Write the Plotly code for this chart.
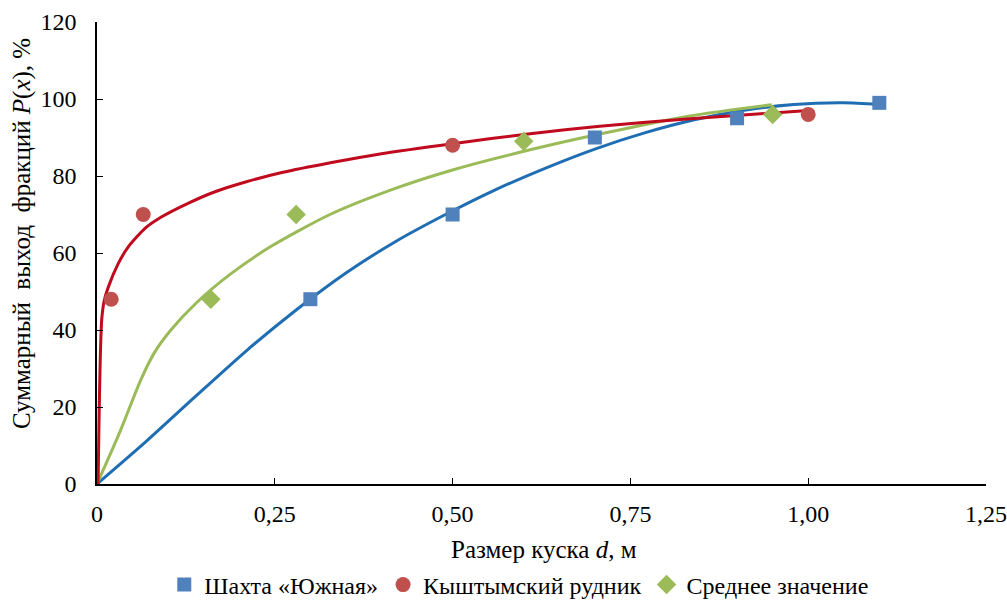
import plotly.graph_objects as go

# Measured points
south_x = [0.3, 0.5, 0.7, 0.9, 1.1]
south_y = [48, 70, 90, 95, 99]
kysh_x = [0.02, 0.065, 0.5, 1.0]
kysh_y = [48, 70, 88, 96]
avg_x = [0.16, 0.28, 0.6, 0.95]
avg_y = [48, 70, 89, 96]

# Trend curves
south_tx = [0, 0.07, 0.14, 0.21, 0.28, 0.35, 0.42, 0.49, 0.56, 0.63, 0.70, 0.77, 0.84, 0.91, 0.98, 1.05, 1.10]
south_ty = [0, 11.2, 23.0, 34.6, 45.2, 54.8, 63.0, 70.0, 76.4, 82.0, 87.0, 91.2, 94.6, 97.1, 98.6, 99.0, 98.6]
kysh_tx = [0.0015, 0.003, 0.0045, 0.0066, 0.010, 0.016, 0.030, 0.044, 0.0675, 0.091, 0.128, 0.166, 0.21, 0.26, 0.33, 0.40, 0.50, 0.609, 0.707, 0.834, 1.0]
kysh_ty = [0, 18, 32, 42.6, 47.5, 51.2, 57.3, 61.6, 66.4, 69.4, 72.9, 75.9, 78.5, 80.9, 83.5, 85.8, 88.4, 91.0, 92.9, 94.9, 97.0]
avg_tx = [0, 0.0328, 0.061, 0.0797, 0.103, 0.1406, 0.1875, 0.2437, 0.3276, 0.4214, 0.4987, 0.609, 0.707, 0.834, 0.9487]
avg_ty = [0, 13.8, 26.8, 33.8, 39.8, 47.2, 54.5, 61.6, 70.0, 76.9, 81.5, 86.8, 90.9, 95.6, 98.5]

x_ticks = [0, 0.25, 0.5, 0.75, 1.0, 1.25]
x_ticktext = ["0", "0,25", "0,50", "0,75", "1,00", "1,25"]
y_ticks = [0, 20, 40, 60, 80, 100, 120]

names = ["Шахта «Южная»", "Кыштымский рудник", "Среднее значение"]

FONT = "Liberation Serif"
FS_TICK = 24
FS_TITLE = 25
FS_LEG = 24

fig = go.Figure()
fig.add_trace(go.Scatter(x=south_tx, y=south_ty, mode="lines", line=dict(color="#1F6EB4", width=3, shape="spline", smoothing=0.7), showlegend=False, hoverinfo="skip"))
fig.add_trace(go.Scatter(x=avg_tx, y=avg_ty, mode="lines", line=dict(color="#9BBB59", width=3, shape="spline", smoothing=0.7), showlegend=False, hoverinfo="skip"))
fig.add_trace(go.Scatter(x=kysh_tx, y=kysh_ty, mode="lines", line=dict(color="#C00A1E", width=3, shape="spline", smoothing=0.6), showlegend=False, hoverinfo="skip"))

fig.add_trace(go.Scatter(x=south_x, y=south_y, mode="markers", name=names[0], marker=dict(symbol="square", size=14, color="#4F81BD")))
fig.add_trace(go.Scatter(x=kysh_x, y=kysh_y, mode="markers", name=names[1], marker=dict(symbol="circle", size=15, color="#C0504D")))
fig.add_trace(go.Scatter(x=avg_x, y=avg_y, mode="markers", name=names[2], marker=dict(symbol="diamond", size=15, color="#9BBB59")))

fig.update_layout(
    width=1007, height=600,
    margin=dict(l=97, r=21, t=22, b=116, autoexpand=False),
    paper_bgcolor="white", plot_bgcolor="white",
    font=dict(family=FONT, size=FS_TICK, color="#000000"),
    showlegend=True,
    legend=dict(orientation="h", x=0.475, xanchor="center", y=-(585 - 484) / 462, yanchor="middle",
                font=dict(family=FONT, size=FS_LEG), itemwidth=30, tracegroupgap=0),
    xaxis=dict(range=[0, 1.25], tickvals=x_ticks, ticktext=x_ticktext,
               showgrid=False, zeroline=False, showline=True, linecolor="#000000", linewidth=1.5,
               ticks="inside", ticklen=6, tickcolor="#000000", tickfont=dict(family=FONT, size=FS_TICK),
               ticklabelstandoff=7),
    yaxis=dict(range=[0, 120], tickvals=y_ticks,
               showgrid=False, zeroline=False, showline=True, linecolor="#000000", linewidth=1.5,
               ticks="inside", ticklen=6, tickcolor="#000000", tickfont=dict(family=FONT, size=FS_TICK),
               ticklabelstandoff=14),
    annotations=[
        dict(text="Размер куска <i>d</i>, м", xref="paper", yref="paper", x=0.503, y=-(549 - 484) / 462,
             xanchor="center", yanchor="middle", showarrow=False, font=dict(family=FONT, size=FS_TITLE)),
        dict(text="Суммарный\u00a0 выход\u00a0 фракций <i>P</i>(<i>x</i>), %", xref="paper", yref="paper",
             x=-(97 - 22) / 889, y=(484 - 234) / 462, xanchor="center", yanchor="middle", textangle=-90,
             showarrow=False, font=dict(family=FONT, size=FS_TITLE)),
    ],
)

fig.write_html("out.html")
